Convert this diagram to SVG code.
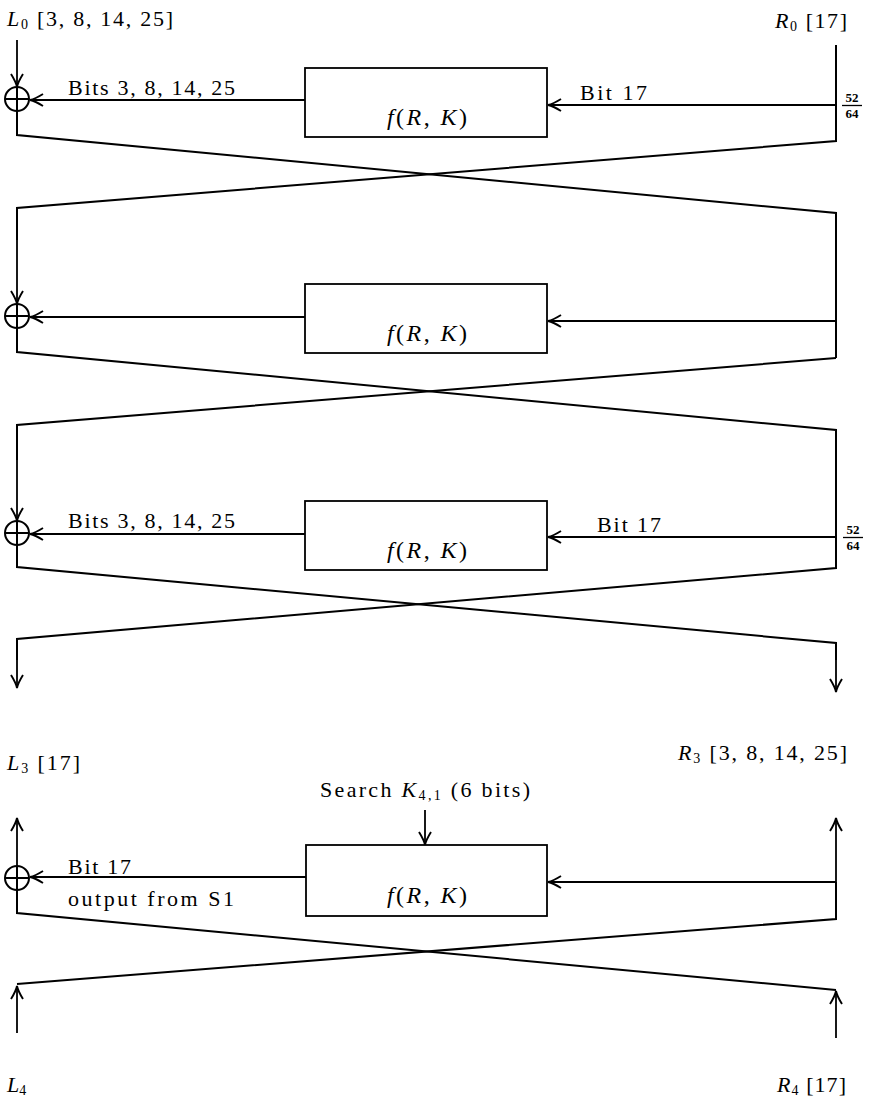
<svg xmlns="http://www.w3.org/2000/svg" width="873" height="1101" viewBox="0 0 873 1101">
<defs>
<marker id="ah" markerUnits="userSpaceOnUse" markerWidth="18" markerHeight="16" viewBox="-15 -8 18 16" refX="0" refY="0" orient="auto">
<path d="M-13,-6 Q-5,-1 0,0 Q-5,1 -13,6" fill="none" stroke="#000" stroke-width="1.9"/>
</marker>
</defs>
<style>
.w{fill:none;stroke:#000;stroke-width:2;stroke-linejoin:miter}
.a{fill:none;stroke:#000;stroke-width:1.8;marker-end:url(#ah)}
.box{fill:#fff;stroke:#000;stroke-width:1.8}
.xor{fill:#fff;stroke:#000;stroke-width:2}
text{font-family:"Liberation Serif","DejaVu Serif",serif;fill:#000;font-size:22px}
.i{font-style:italic}
.fr{font-size:13px;font-weight:bold;text-anchor:middle}
.fn{font-size:24px}
.sb{font-size:14px}
</style>
<rect width="873" height="1101" fill="#fff"/>

<g id="connectors">
<!-- round 1 -->
<line class="a" x1="17" y1="40" x2="17" y2="87"/>
<line class="a" x1="305" y1="100" x2="30" y2="100"/>
<line class="a" x1="836" y1="105" x2="548" y2="105"/>
<polyline class="w" points="836,45 836,141 17,208 17,240"/>
<polyline class="w" points="17,111 17,135 836,213 836,358"/>
<line class="a" x1="17" y1="238" x2="17" y2="304"/>
<!-- round 2 -->
<line class="a" x1="305" y1="317" x2="30" y2="317"/>
<line class="a" x1="836" y1="321" x2="548" y2="321"/>
<polyline class="w" points="17,328 17,352 836,430 836,568 17,639 17,660"/>
<polyline class="w" points="836,358 17,425 17,460"/>
<line class="a" x1="17" y1="458" x2="17" y2="521"/>
<!-- round 3 -->
<line class="a" x1="305" y1="534" x2="30" y2="534"/>
<line class="a" x1="836" y1="537" x2="548" y2="537"/>
<polyline class="w" points="17,545 17,567 836,643 836,660"/>
<line class="a" x1="17" y1="655" x2="17" y2="688"/>
<line class="a" x1="836" y1="658" x2="836" y2="692"/>
<!-- round 4 -->
<line class="a" x1="17" y1="866" x2="17" y2="818"/>
<line class="a" x1="836" y1="882" x2="836" y2="818"/>
<line class="a" x1="306" y1="877" x2="30" y2="877"/>
<line class="a" x1="836" y1="882" x2="548" y2="882"/>
<line class="a" x1="425" y1="810" x2="425" y2="845"/>
<polyline class="w" points="17,890 17,913 836,990"/>
<polyline class="w" points="836,882 836,919 17,984"/>
<line class="a" x1="17" y1="1033" x2="17" y2="986"/>
<line class="a" x1="836" y1="1038" x2="836" y2="991"/>
</g>

<g id="xor1"><circle class="xor" cx="17" cy="99" r="12"/><path class="w" d="M5,99H29M17,87V111"/></g>
<g id="xor2"><circle class="xor" cx="17" cy="316" r="12"/><path class="w" d="M5,316H29M17,304V328"/></g>
<g id="xor3"><circle class="xor" cx="17" cy="533" r="12"/><path class="w" d="M5,533H29M17,521V545"/></g>
<g id="xor4"><circle class="xor" cx="17" cy="878" r="12"/><path class="w" d="M5,878H29M17,866V890"/></g>

<g id="f1"><rect class="box" x="305" y="68" width="242" height="69"/><text class="fn" x="387" y="125" textLength="80" lengthAdjust="spacing"><tspan class="i">f</tspan>(<tspan class="i">R</tspan>, <tspan class="i">K</tspan>)</text></g>
<g id="f2"><rect class="box" x="305" y="284" width="242" height="69"/><text class="fn" x="387" y="341" textLength="80" lengthAdjust="spacing"><tspan class="i">f</tspan>(<tspan class="i">R</tspan>, <tspan class="i">K</tspan>)</text></g>
<g id="f3"><rect class="box" x="305" y="501" width="242" height="69"/><text class="fn" x="387" y="558" textLength="80" lengthAdjust="spacing"><tspan class="i">f</tspan>(<tspan class="i">R</tspan>, <tspan class="i">K</tspan>)</text></g>
<g id="f4"><rect class="box" x="306" y="845" width="241" height="71"/><text class="fn" x="387" y="903" textLength="80" lengthAdjust="spacing"><tspan class="i">f</tspan>(<tspan class="i">R</tspan>, <tspan class="i">K</tspan>)</text></g>

<g id="labels">
<text x="7" y="26" textLength="166" lengthAdjust="spacing"><tspan class="i">L</tspan><tspan class="sb" dy="3">0</tspan><tspan dy="-3"> [3, 8, 14, 25]</tspan></text>
<text x="775" y="28" textLength="72" lengthAdjust="spacing"><tspan class="i">R</tspan><tspan class="sb" dy="3">0</tspan><tspan dy="-3"> [17]</tspan></text>
<text x="68" y="95" textLength="167" lengthAdjust="spacing">Bits 3, 8, 14, 25</text>
<text x="580" y="100" textLength="67" lengthAdjust="spacing">Bit 17</text>
<text class="fr" x="852" y="102">52</text><line x1="842" y1="105.5" x2="862" y2="105.5" stroke="#000" stroke-width="1.3"/><text class="fr" x="852" y="118">64</text>

<text x="68" y="528" textLength="167" lengthAdjust="spacing">Bits 3, 8, 14, 25</text>
<text x="597" y="532" textLength="64" lengthAdjust="spacing">Bit 17</text>
<text class="fr" x="853" y="534">52</text><line x1="843" y1="537.5" x2="863" y2="537.5" stroke="#000" stroke-width="1.3"/><text class="fr" x="853" y="550">64</text>

<text x="7" y="770" textLength="73" lengthAdjust="spacing"><tspan class="i">L</tspan><tspan class="sb" dy="3">3</tspan><tspan dy="-3"> [17]</tspan></text>
<text x="678" y="760" textLength="169" lengthAdjust="spacing"><tspan class="i">R</tspan><tspan class="sb" dy="3">3</tspan><tspan dy="-3"> [3, 8, 14, 25]</tspan></text>
<text x="320" y="797" textLength="210" lengthAdjust="spacing">Search <tspan class="i">K</tspan><tspan class="sb" dy="3">4,1</tspan><tspan dy="-3"> (6 bits)</tspan></text>
<text x="68" y="874" textLength="63" lengthAdjust="spacing">Bit 17</text>
<text x="68" y="906" textLength="166" lengthAdjust="spacing">output from S1</text>
<text x="7" y="1092"><tspan class="i">L</tspan><tspan class="sb" dy="3">4</tspan></text>
<text x="777" y="1092" textLength="69" lengthAdjust="spacing"><tspan class="i">R</tspan><tspan class="sb" dy="3">4</tspan><tspan dy="-3"> [17]</tspan></text>
</g>
</svg>
